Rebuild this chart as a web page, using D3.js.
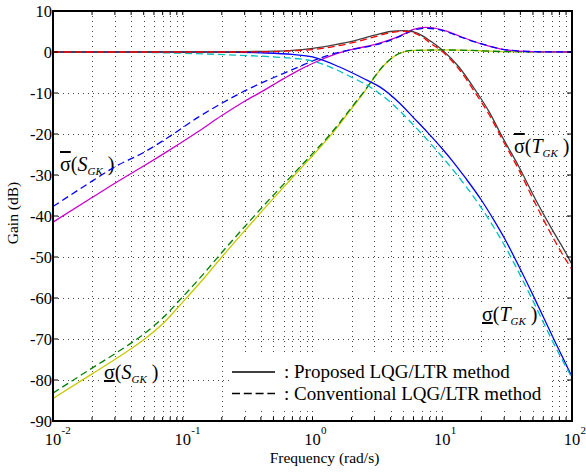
<!DOCTYPE html>
<html>
<head>
<meta charset="utf-8">
<script src="https://cdn.jsdelivr.net/npm/d3@7"></script>
<style>
  body { margin: 0; background: #fff; }
  svg text { font-family: "Liberation Serif", "Times New Roman", serif; fill: #000; }
</style>
</head>
<body>
<svg id="chart" width="586" height="473" font-family="Liberation Serif, serif"></svg>
<script>
// sigma-max of S_GK (sensitivity)
var fSmaxProp = [0.01, 0.02, 0.03, 0.05, 0.08, 0.13, 0.2, 0.3, 0.4, 0.6, 0.8, 1, 1.5, 2, 3, 4, 5, 6, 7.5, 10, 14, 20, 30, 50, 100];
var dbSmaxProp = [-41.5, -35.5, -32, -27.8, -23.8, -19.5, -15.5, -12, -9.8, -6.5, -4.3, -2.8, -0.5, 0.6, 1.8, 3.0, 4.3, 5.5, 6.0, 5.4, 3.7, 2.0, 0.6, 0.1, 0];
var fSmaxConv = [0.01, 0.02, 0.03, 0.05, 0.08, 0.13, 0.2, 0.3, 0.4, 0.6, 0.8, 1, 1.5, 2, 3, 4, 5, 6, 7.5, 10, 14, 20, 30, 50, 100];
var dbSmaxConv = [-37.7, -31.5, -28, -24.5, -20.5, -16, -12.5, -9.5, -7.6, -5.2, -3.5, -2.2, -0.3, 0.6, 1.7, 2.9, 4.2, 5.3, 5.8, 5.3, 3.6, 2.0, 0.6, 0.1, 0];

// sigma-min of S_GK
var fSminProp = [0.01, 0.02, 0.03, 0.04, 0.05, 0.07, 0.1, 0.143, 0.2, 0.3, 0.5, 0.75, 1, 1.35, 2, 2.5, 3, 3.5, 4, 4.5, 5, 6, 10, 20, 30, 100];
var dbSminProp = [-84.5, -78.5, -75.0, -72.4, -70.2, -66.3, -61.0, -55.5, -50.0, -43.6, -35.7, -29.6, -25.3, -20.7, -13.8, -9.8, -6.2, -3.5, -1.7, -0.6, 0, 0.4, 0.5, 0.3, 0.1, 0];
var fSminConv = [0.01, 0.02, 0.03, 0.04, 0.05, 0.07, 0.1, 0.143, 0.2, 0.3, 0.5, 0.75, 1, 1.35, 2, 2.5, 3, 3.5, 4, 4.5, 5, 6, 10, 20, 30, 100];
var dbSminConv = [-83.2, -77.1, -73.6, -71.0, -68.8, -64.9, -59.7, -54.3, -48.9, -42.6, -34.9, -29.0, -24.8, -20.3, -13.5, -9.6, -6.1, -3.4, -1.7, -0.6, 0, 0.4, 0.5, 0.3, 0.1, 0];

// sigma-max of T_GK (complementary sensitivity)
var fTmaxProp = [0.01, 0.1, 0.2, 0.3, 0.5, 0.7, 1, 1.5, 2, 3, 4, 5, 6, 7, 8, 10, 13.4, 18, 23, 29, 39, 52.6, 70.6, 91, 100];
var dbTmaxProp = [0, 0, 0, 0.1, 0.2, 0.4, 0.9, 1.8, 2.6, 4.1, 5.0, 5.2, 4.9, 4.0, 2.8, 0.5, -3.6, -9.3, -14.6, -20.7, -28, -36.1, -43.4, -49.4, -51.8];
var fTmaxConv = [0.01, 0.1, 0.3, 0.5, 0.7, 1, 1.5, 2, 3, 4, 5, 6, 7, 8, 10, 13.4, 18, 23, 29, 39, 52.6, 70.6, 91, 100];
var dbTmaxConv = [0, 0, 0, 0.1, 0.3, 0.6, 1.4, 2.2, 3.7, 4.7, 5.1, 4.7, 3.7, 2.3, 0.1, -4.1, -10, -15.3, -21.3, -28.8, -37.2, -45, -51, -53];

// sigma-min of T_GK
var fTminProp = [0.01, 0.1, 0.2, 0.4, 0.7, 1, 1.6, 2.6, 3.3, 4.7, 6, 7.7, 10, 12, 15, 20, 25, 30, 40, 52, 72, 100];
var dbTminProp = [0, 0, 0, -0.2, -0.6, -1.2, -3.6, -6.8, -8.5, -12.5, -16, -19.6, -23.6, -26.6, -30.6, -36.1, -41, -45.3, -53, -60.4, -69.9, -79.2];
var fTminConv = [0.01, 0.05, 0.1, 0.27, 0.56, 1, 1.4, 1.9, 2.7, 4.1, 6, 7.7, 10, 12, 15, 20, 25, 30, 40, 52, 72, 100];
var dbTminConv = [0, -0.1, -0.3, -0.8, -1.3, -2.2, -3.8, -5.8, -8.3, -12.6, -17.8, -21.5, -25.6, -28.6, -32.5, -38, -42.8, -47, -54.5, -61.8, -71, -79.5];

var yTicks = [10, 0, -10, -20, -30, -40, -50, -60, -70, -80, -90];
var xDecades = [-2, -1, 0, 1, 2];
var legendTexts = [": Proposed LQG/LTR method", ": Conventional LQG/LTR method"];

var pL = 53, pR = 572, pT = 11, pB = 421;

var svg = d3.select("#chart");

var x = d3.scaleLog().domain([0.01, 100]).range([pL, pR]);
var y = d3.scaleLinear().domain([-90, 10]).range([pB, pT]);

// grid
var minorX = x.ticks().filter(function (t) { return t > 0.0101 && t < 99; });
var grid = svg.append("g").attr("class", "grid")
  .attr("stroke", "#444").attr("stroke-width", 1).attr("stroke-dasharray", "1,4");
grid.selectAll("line.v").data(minorX).enter().append("line")
  .attr("x1", function (d) { return Math.round(x(d)) + 0.5; })
  .attr("x2", function (d) { return Math.round(x(d)) + 0.5; })
  .attr("y1", pT).attr("y2", pB);
grid.selectAll("line.h").data(yTicks.filter(function (t) { return t > -90 && t < 10; })).enter().append("line")
  .attr("y1", function (d) { return Math.round(y(d)) + 0.5; })
  .attr("y2", function (d) { return Math.round(y(d)) + 0.5; })
  .attr("x1", pL).attr("x2", pR);

// legend background hides grid
svg.append("rect").attr("x", 230).attr("y", 352).attr("width", 322).attr("height", 58).attr("fill", "#fff");

// curve labels (white box hides the grid, curves drawn on top)
var labels = [
  { sub: "S", bar: "overline", x: 60, y: 171 },
  { sub: "S", bar: "underline", x: 104, y: 379 },
  { sub: "T", bar: "overline", x: 514, y: 153 },
  { sub: "T", bar: "underline", x: 482, y: 321 }
];
var lg = svg.append("g").selectAll("g").data(labels).enter().append("g");
var lt = lg.append("text").attr("x", function (d) { return d.x; }).attr("y", function (d) { return d.y; })
  .attr("font-size", 20);
lt.append("tspan").style("text-decoration", function (d) { return d.bar; }).text("\u03c3");
lt.append("tspan").text("(");
lt.append("tspan").attr("font-style", "italic").text(function (d) { return d.sub; });
lt.append("tspan").attr("font-style", "italic").attr("font-size", 11).attr("dy", 4).text("GK");
lt.append("tspan").attr("dy", -4).text(" )");
lg.each(function () {
  var t = d3.select(this).select("text");
  var b = t.node().getBBox();
  d3.select(this).insert("rect", "text")
    .attr("x", b.x - 1).attr("y", b.y).attr("width", b.width + 2).attr("height", b.height)
    .attr("fill", "#fff");
});

// curves
var series = [
  { f: fSminProp, db: dbSminProp, color: "#c8c800", dash: null },
  { f: fSminConv, db: dbSminConv, color: "#008000", dash: "7,4" },
  { f: fSmaxProp, db: dbSmaxProp, color: "#cc00cc", dash: null },
  { f: fSmaxConv, db: dbSmaxConv, color: "#0000ff", dash: "7,4" },
  { f: fTminProp, db: dbTminProp, color: "#0000ff", dash: null },
  { f: fTminConv, db: dbTminConv, color: "#00c0c0", dash: "7,4" },
  { f: fTmaxProp, db: dbTmaxProp, color: "#404040", dash: null },
  { f: fTmaxConv, db: dbTmaxConv, color: "#ff0000", dash: "7,4" }
];

var line = d3.line()
  .x(function (d) { return x(d[0]); })
  .y(function (d) { return y(d[1]); })
  .curve(d3.curveMonotoneX);

svg.append("g").selectAll("path").data(series).enter().append("path")
  .attr("d", function (s) { return line(s.f.map(function (f, i) { return [f, s.db[i]]; })); })
  .attr("fill", "none")
  .attr("stroke", function (s) { return s.color; })
  .attr("stroke-width", 1.3)
  .attr("stroke-dasharray", function (s) { return s.dash; });

// frame and inner ticks
var ax = svg.append("g").attr("stroke", "#000");
ax.selectAll("line.bx").data(minorX).enter().append("line")
  .attr("x1", function (d) { return x(d); }).attr("x2", function (d) { return x(d); })
  .attr("y1", pB).attr("y2", pB - 4);
ax.selectAll("line.tx").data(minorX).enter().append("line")
  .attr("x1", function (d) { return x(d); }).attr("x2", function (d) { return x(d); })
  .attr("y1", pT).attr("y2", pT + 4);
ax.selectAll("line.ly").data(yTicks).enter().append("line")
  .attr("y1", function (d) { return y(d); }).attr("y2", function (d) { return y(d); })
  .attr("x1", pL).attr("x2", pL + 5);
ax.selectAll("line.ry").data(yTicks).enter().append("line")
  .attr("y1", function (d) { return y(d); }).attr("y2", function (d) { return y(d); })
  .attr("x1", pR).attr("x2", pR - 5);
svg.append("rect").attr("x", pL).attr("y", pT).attr("width", pR - pL).attr("height", pB - pT)
  .attr("fill", "none").attr("stroke", "#000").attr("stroke-width", 2);

// y tick labels
svg.append("g").selectAll("text").data(yTicks).enter().append("text")
  .attr("x", pL - 1).attr("y", function (d) { return y(d) + 5.5; })
  .attr("text-anchor", "end").attr("font-size", 16.5)
  .text(function (d) { return d; });

// x tick labels 10^k
var xl = svg.append("g").selectAll("g").data(xDecades).enter().append("g")
  .attr("transform", function (d) { return "translate(" + x(Math.pow(10, d)) + ",445)"; });
xl.append("text").attr("text-anchor", "middle").attr("font-size", 16.5).text("10");
xl.append("text").attr("x", 8.5).attr("y", -11).attr("font-size", 11).text(function (d) { return d; });

// axis titles
svg.append("text").attr("x", (pL + pR) / 2 + 12).attr("y", 463).attr("text-anchor", "middle")
  .attr("font-size", 15.5).text("Frequency (rad/s)");
svg.append("text").attr("transform", "translate(18,213) rotate(-90)").attr("text-anchor", "middle")
  .attr("font-size", 15.5).text("Gain (dB)");

// legend
var leg = svg.append("g").selectAll("g").data(legendTexts).enter().append("g")
  .attr("transform", function (d, i) { return "translate(232," + (372 + i * 21.5) + ")"; });
leg.append("line").attr("x1", 0).attr("x2", 43).attr("stroke", "#000").attr("stroke-width", 1.6)
  .attr("stroke-dasharray", function (d, i) { return i ? "8,3.8" : null; });
leg.append("text").attr("x", 52).attr("y", 6).attr("font-size", 19).text(function (d) { return d; });
</script>
</body>
</html>
